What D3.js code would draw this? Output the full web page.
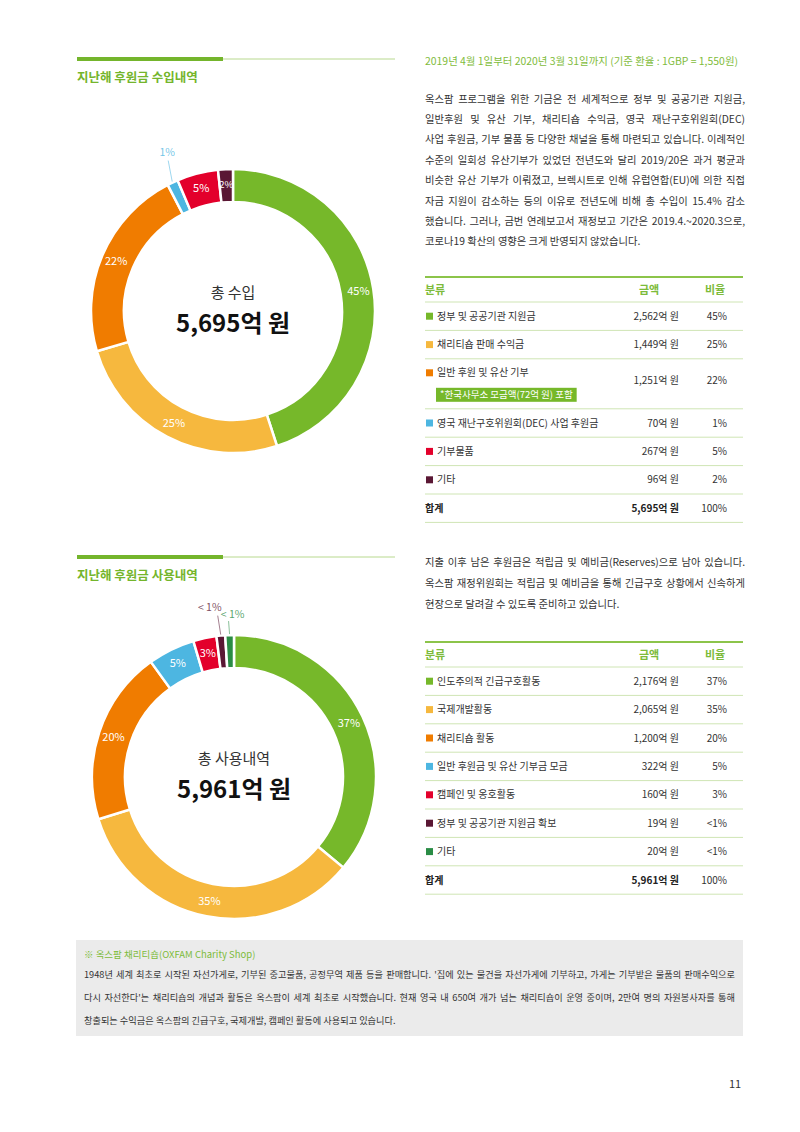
<!DOCTYPE html>
<html>
<head>
<meta charset="utf-8">
<script src="https://cdn.jsdelivr.net/npm/d3@7"></script>
<style>
body { margin: 0; background: #fff; }
svg { display: block; font-family: "Noto Sans CJK KR", "Noto Sans", sans-serif; }
</style>
</head>
<body>
<div id="page"></div>
<script>
// ---- data ----
const incomeCategories = ["정부 및 공공기관 지원금", "채리티숍 판매 수익금", "일반 후원 및 유산 기부",
  "영국 재난구호위원회(DEC) 사업 후원금", "기부물품", "기타"];
const incomeAmounts = [2562, 1449, 1251, 70, 267, 96];
const incomeShares = ["45%", "25%", "22%", "1%", "5%", "2%"];
const incomeNotes = [null, null, "*한국사무소 모금액(72억 원) 포함", null, null, null];
const incomeTotal = 5695;

const spendCategories = ["인도주의적 긴급구호활동", "국제개발활동", "채리티숍 활동",
  "일반 후원금 및 유산 기부금 모금", "캠페인 및 옹호활동", "정부 및 공공기관 지원금 확보", "기타"];
const spendAmounts = [2176, 2065, 1200, 322, 160, 19, 20];
const spendShares = ["37%", "35%", "20%", "5%", "3%", "<1%", "<1%"];
const spendTotal = 5961;

const incomeColors = ["#76b82a", "#f6b83e", "#f07c00", "#4db6e1", "#e3002b", "#5a1734"];
const spendColors = ["#76b82a", "#f6b83e", "#f07c00", "#4db6e1", "#e3002b", "#5a1734", "#2a8c45"];

const introLines = [
  "옥스팜 프로그램을 위한 기금은 전 세계적으로 정부 및 공공기관 지원금,",
  "일반후원 및 유산 기부, 채리티숍 수익금, 영국 재난구호위원회(DEC)",
  "사업 후원금, 기부 물품 등 다양한 채널을 통해 마련되고 있습니다. 이례적인",
  "수준의 일회성 유산기부가 있었던 전년도와 달리 2019/20은 과거 평균과",
  "비슷한 유산 기부가 이뤄졌고, 브렉시트로 인해 유럽연합(EU)에 의한 직접",
  "자금 지원이 감소하는 등의 이유로 전년도에 비해 총 수입이 15.4% 감소",
  "했습니다. 그러나, 금번 연례보고서 재정보고 기간은 2019.4.~2020.3으로,",
  "코로나19 확산의 영향은 크게 반영되지 않았습니다."
];
const reserveLines = [
  "지출 이후 남은 후원금은 적립금 및 예비금(Reserves)으로 남아 있습니다.",
  "옥스팜 재정위원회는 적립금 및 예비금을 통해 긴급구호 상황에서 신속하게",
  "현장으로 달려갈 수 있도록 준비하고 있습니다."
];
const shopTitle = "※ 옥스팜 채리티숍(OXFAM Charity Shop)";
const shopLines = [
  "1948년 세계 최초로 시작된 자선가게로, 기부된 중고물품, 공정무역 제품 등을 판매합니다. '집에 있는 물건을 자선가게에 기부하고, 가게는 기부받은 물품의 판매수익으로",
  "다시 자선한다'는 채리티숍의 개념과 활동은 옥스팜이 세계 최초로 시작했습니다. 현재 영국 내 650여 개가 넘는 채리티숍이 운영 중이며, 2만여 명의 자원봉사자를 통해",
  "창출되는 수익금은 옥스팜의 긴급구호, 국제개발, 캠페인 활동에 사용되고 있습니다."
];

// ---- setup ----
const W = 800, H = 1132;
const green = "#74b52c";
const textColor = "#333";
const fmt = d3.format(",");

const svg = d3.select("#page").append("svg")
  .attr("width", W)
  .attr("height", H);

// stretch every line but the last one to the full column width
function justify(sel, width) {
  sel.each(function(d, i, nodes) {
    if (i === nodes.length - 1) return;
    const w = this.getComputedTextLength();
    const n = (this.textContent.match(/ /g) || []).length;
    if (w > width) {
      d3.select(this).attr("textLength", width).attr("lengthAdjust", "spacingAndGlyphs");
    } else if (n) {
      d3.select(this).attr("word-spacing", (width - w) / n);
    }
  });
}

function paragraph(lines, x, y0, lineH, width, size) {
  const t = svg.append("g").selectAll("text")
    .data(lines)
    .enter()
    .append("text")
    .attr("x", x)
    .attr("y", (d, i) => y0 + i * lineH)
    .attr("dy", "0.35em")
    .attr("font-size", size)
    .attr("fill", textColor)
    .text(d => d);
  justify(t, width);
}

// ---- section headers ----
function sectionHeader(y, title) {
  svg.append("rect").attr("x", 77).attr("y", y - 2).attr("width", 146).attr("height", 4).attr("fill", green);
  svg.append("line").attr("x1", 223).attr("x2", 395).attr("y1", y).attr("y2", y)
    .attr("stroke", "#b8d98f").attr("stroke-width", 1);
  svg.append("text")
    .attr("x", 77).attr("y", y + 19).attr("dy", "0.35em")
    .attr("font-size", 12.5).attr("font-weight", 700).attr("fill", green)
    .text(title);
}
sectionHeader(59, "지난해 후원금 수입내역");
sectionHeader(557, "지난해 후원금 사용내역");

// ---- donuts ----
const outerR = 142, innerR = 109;

function donut(cx, cy, values, colors, shares, title, total, callouts) {
  const sum = d3.sum(values);
  const pie = d3.pie().sort(null).value(d => Math.max(d, sum * 0.01));
  const arcs = pie(values);
  const arc = d3.arc().innerRadius(innerR).outerRadius(outerR);
  const labelArc = d3.arc().innerRadius(127).outerRadius(127);
  const g = svg.append("g").attr("transform", `translate(${cx},${cy})`);

  g.selectAll("path")
    .data(arcs)
    .enter()
    .append("path")
    .attr("d", arc)
    .attr("fill", (d, i) => colors[i])
    .attr("stroke", "#fff")
    .attr("stroke-width", 2.5);

  const frac = d => (d.endAngle - d.startAngle) / (2 * Math.PI);

  // labels inside the ring
  g.selectAll("text.inside")
    .data(arcs.filter(d => frac(d) >= 0.015))
    .enter()
    .append("text")
    .attr("class", "inside")
    .attr("transform", d => `translate(${labelArc.centroid(d)})`)
    .attr("text-anchor", "middle")
    .attr("dy", "0.35em")
    .attr("font-size", d => frac(d) < 0.02 ? 9.5 : 11)
    .attr("fill", "#fff")
    .text(d => shares[d.index]);

  // callouts for slivers
  const small = arcs.filter(d => frac(d) < 0.015);
  small.forEach((d, k) => {
    const a = (d.startAngle + d.endAngle) / 2;
    const p0 = [Math.sin(a) * (outerR + 1), -Math.cos(a) * (outerR + 1)];
    const o = callouts[k];
    g.append("line")
      .attr("x1", p0[0]).attr("y1", p0[1])
      .attr("x2", p0[0] + o.lx).attr("y2", p0[1] + o.ly)
      .attr("stroke", colors[d.index]).attr("stroke-opacity", 0.55).attr("stroke-width", 1);
    g.append("text")
      .attr("x", p0[0] + o.tx).attr("y", p0[1] + o.ty)
      .attr("text-anchor", "middle").attr("dy", "0.35em")
      .attr("font-size", 10.5)
      .attr("fill", colors[d.index]).attr("fill-opacity", 0.8)
      .text(shares[d.index].replace("<", "< "));
  });

  g.append("text")
    .attr("text-anchor", "middle").attr("y", -18).attr("dy", "0.35em")
    .attr("font-size", 15).attr("fill", textColor)
    .text(title);
  g.append("text")
    .attr("text-anchor", "middle").attr("y", 13).attr("dy", "0.35em")
    .attr("font-size", 24).attr("font-weight", 700).attr("fill", "#111")
    .text(fmt(total) + "억 원");
}

donut(233, 311, incomeAmounts, incomeColors, incomeShares, "총 수입", incomeTotal,
  [{lx: -4, ly: -21, tx: -5, ty: -29}]);
donut(234, 777, spendAmounts, spendColors, spendShares, "총 사용내역", spendTotal,
  [{lx: -3, ly: -19, tx: -11, ty: -27}, {lx: -1, ly: -13, tx: 3, ty: -20}]);

// ---- right column text ----
svg.append("text")
  .attr("x", 425).attr("y", 61).attr("dy", "0.35em")
  .attr("font-size", 10).attr("fill", "#7fbc3c")
  .attr("textLength", 313).attr("lengthAdjust", "spacingAndGlyphs")
  .text("2019년 4월 1일부터 2020년 3월 31일까지 (기준 환율 : 1GBP = 1,550원)");

paragraph(introLines, 425, 99, 20.4, 320, 10.3);
paragraph(reserveLines, 425, 562, 21, 320, 10.3);

// ---- tables ----
function table(y0, cats, amounts, shares, colors, notes, total) {
  const left = 425, right = 743;
  const xAmt = 679, xPct = 727;
  const g = svg.append("g");
  const rowH = notes.map(n => n ? 50 : 28.4);
  const rowTop = [];
  let y = y0 + 25;
  rowH.forEach(h => { rowTop.push(y); y += h; });
  const totalTop = y;

  g.append("line").attr("x1", left).attr("x2", right).attr("y1", y0).attr("y2", y0)
    .attr("stroke", "#8cc44a").attr("stroke-width", 2);
  const head = [{t: "분류", x: left, a: "start"}, {t: "금액", x: 649, a: "middle"}, {t: "비율", x: 715, a: "middle"}];
  g.selectAll("text.head").data(head).enter().append("text")
    .attr("x", d => d.x).attr("y", y0 + 13).attr("dy", "0.35em")
    .attr("text-anchor", d => d.a)
    .attr("font-size", 11).attr("font-weight", 700).attr("fill", "#7dbb3a")
    .text(d => d.t);

  const sepY = [y0 + 25].concat(rowTop.map((t, i) => t + rowH[i])).concat([totalTop + 28.4]);
  g.selectAll("line.sep").data(sepY).enter().append("line")
    .attr("x1", left).attr("x2", right).attr("y1", d => d).attr("y2", d => d)
    .attr("stroke", "#cfe5b4").attr("stroke-width", 1);

  const rows = g.selectAll("g.row").data(cats).enter().append("g");
  const midY = (d, i) => notes[i] ? rowTop[i] + 14 : rowTop[i] + rowH[i] / 2;
  const valY = (d, i) => rowTop[i] + rowH[i] / 2 + (notes[i] ? -3 : 0);

  rows.append("rect")
    .attr("x", 426).attr("y", (d, i) => midY(d, i) - 3.5)
    .attr("width", 7).attr("height", 7)
    .attr("fill", (d, i) => colors[i]);
  rows.append("text")
    .attr("x", 437).attr("y", midY).attr("dy", "0.35em")
    .attr("font-size", 10).attr("fill", textColor)
    .text(d => d);
  rows.append("text")
    .attr("x", xAmt).attr("y", valY).attr("dy", "0.35em")
    .attr("text-anchor", "end").attr("font-size", 10).attr("fill", textColor)
    .text((d, i) => fmt(amounts[i]) + "억 원");
  rows.append("text")
    .attr("x", xPct).attr("y", valY).attr("dy", "0.35em")
    .attr("text-anchor", "end").attr("font-size", 10).attr("fill", textColor)
    .text((d, i) => shares[i]);

  notes.forEach((n, i) => {
    if (!n) return;
    const t = g.append("text")
      .attr("x", 440).attr("y", rowTop[i] + 35.5).attr("dy", "0.35em")
      .attr("font-size", 9.5).attr("fill", "#fff")
      .text(n);
    const w = t.node().getComputedTextLength();
    g.insert("rect", () => t.node())
      .attr("x", 436).attr("y", rowTop[i] + 29).attr("width", w + 8).attr("height", 14)
      .attr("fill", "#76b82a");
  });

  const ty = totalTop + 14.2;
  g.append("text").attr("x", left).attr("y", ty).attr("dy", "0.35em")
    .attr("font-size", 10).attr("font-weight", 700).attr("fill", "#222").text("합계");
  g.append("text").attr("x", xAmt).attr("y", ty).attr("dy", "0.35em").attr("text-anchor", "end")
    .attr("font-size", 10).attr("font-weight", 700).attr("fill", "#222").text(fmt(total) + "억 원");
  g.append("text").attr("x", xPct).attr("y", ty).attr("dy", "0.35em").attr("text-anchor", "end")
    .attr("font-size", 10).attr("fill", textColor).text("100%");
}

table(277, incomeCategories, incomeAmounts, incomeShares, incomeColors, incomeNotes, incomeTotal);
table(642, spendCategories, spendAmounts, spendShares, spendColors, spendCategories.map(() => null), spendTotal);

// ---- charity shop box ----
svg.append("rect").attr("x", 76).attr("y", 940).attr("width", 667).attr("height", 96).attr("fill", "#ebebeb");
svg.append("text")
  .attr("x", 84).attr("y", 955).attr("dy", "0.35em")
  .attr("font-size", 9.5).attr("fill", "#7dbb3a")
  .text(shopTitle);
paragraph(shopLines, 84, 975, 23, 651, 9.2);

// ---- page number ----
svg.append("text")
  .attr("x", 735).attr("y", 1084).attr("dy", "0.35em").attr("text-anchor", "middle")
  .attr("font-size", 11).attr("fill", textColor)
  .text("11");
</script>
</body>
</html>
